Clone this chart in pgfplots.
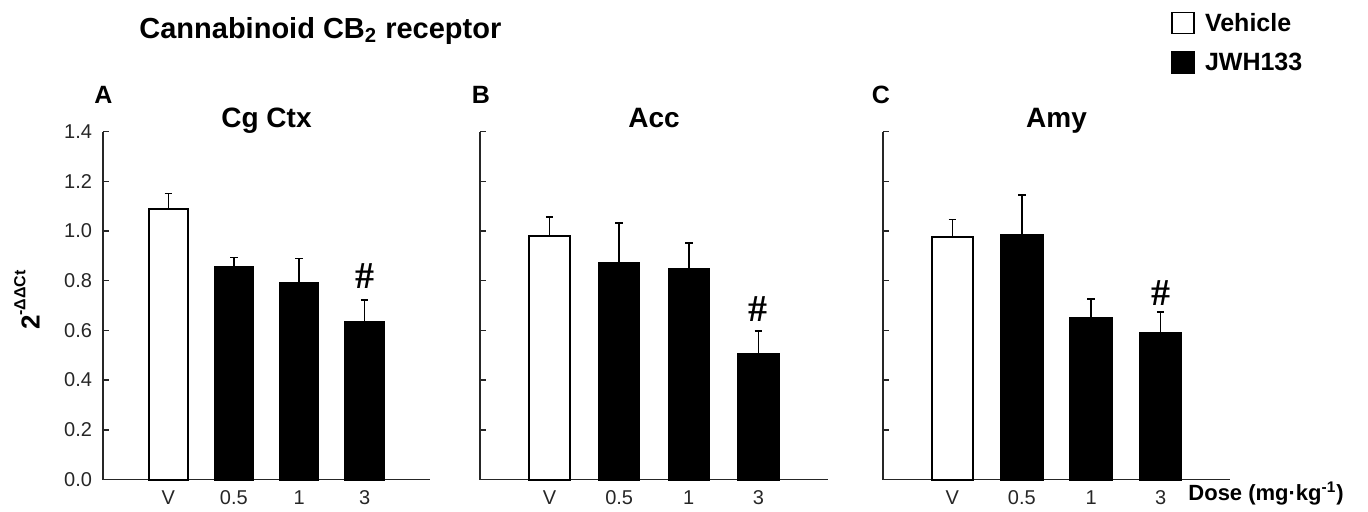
\documentclass[border=0pt]{standalone}
\usepackage{pgfplots}
\pgfplotsset{compat=1.18}
\usepackage{fontspec}
\setmainfont{Liberation Sans}
\newfontfamily\seriffont{Liberation Serif}
\begin{document}
\begin{tikzpicture}
\pgfplotsset{
  panel/.style={
    scale only axis, height=174pt,
    ymin=0, ymax=1.4, xmin=-1, xmax=4,
    axis x line*=bottom, axis y line*=left,
    axis line style={-, line width=0.8pt, black!85},
    tick align=inside, major tick length=3pt,
    tick style={line width=0.7pt, black!85},
    ytick={0,0.2,0.4,0.6,0.8,1.0,1.2,1.4},
    xtick={0,1,2,3}, xticklabels={V,0.5,1,3},
    major x tick style={draw=none},
    /pgf/number format/fixed, /pgf/number format/fixed zerofill,
    /pgf/number format/precision=1, /pgf/number format/assume math mode=true,
    ticklabel style={font=\fontsize{10}{12}\selectfont, text=black!85},
    yticklabel style={xshift=-2pt},
    xticklabel style={yshift=-2pt},
    clip=false,
  },
  vbar/.style={ybar, bar shift=0pt, bar width=#1, fill=white, draw=black, line width=1pt,
     error bars/.cd, y dir=plus, y explicit, error mark=|,
     error bar style={line width=0.75pt, black},
     error mark options={line width=0.75pt, black, mark size=1.9pt}},
  jbar/.style={ybar, bar shift=0pt, bar width=#1, fill=black, draw=black, line width=1pt,
     error bars/.cd, y dir=plus, y explicit, error mark=|,
     error bar style={line width=0.75pt, black},
     error mark options={line width=0.75pt, black, mark size=1.9pt}},
}
\path[use as bounding box] (0,0) rectangle (684pt,-255.5pt);

% Panel A
\begin{axis}[panel, width=163.5pt, at={(51.5pt,-239.75pt)}, anchor=south west]
\addplot[vbar=0.59] coordinates {(0,1.09) +- (0,0.06)};
\addplot[jbar=0.59] coordinates {(1,0.854) +- (0,0.04) (2,0.789) +- (0,0.10) (3,0.633) +- (0,0.09)};
\node[font=\seriffont\bfseries\fontsize{19}{20}\selectfont] at (axis cs:3,0.818) {\#};
\end{axis}

% Panel B
\begin{axis}[panel, width=174pt, at={(240pt,-239.75pt)}, anchor=south west, yticklabels={}]
\addplot[vbar=0.58] coordinates {(0,0.978) +- (0,0.078)};
\addplot[jbar=0.58] coordinates {(1,0.871) +- (0,0.16) (2,0.847) +- (0,0.105) (3,0.503) +- (0,0.094)};
\node[font=\seriffont\bfseries\fontsize{19}{20}\selectfont] at (axis cs:3,0.685) {\#};
\end{axis}

% Panel C
\begin{axis}[panel, width=173.5pt, at={(441.5pt,-239.75pt)}, anchor=south west, yticklabels={},
  legend style={at={(axis description cs:0.830,1.345)}, anchor=north west, draw=none, fill=none,
    inner sep=0pt, row sep=8.25pt, column sep=5pt,
    font=\bfseries\fontsize{12.5}{15}\selectfont, nodes={inner sep=0pt}},
  legend cell align=left,
  legend image code/.code={\draw[#1, line width=0.8pt] (0pt,-4.75pt) rectangle (11pt,5.75pt);}]
\addplot[vbar=0.6] coordinates {(0,0.977) +- (0,0.07)};
\addplot[jbar=0.6] coordinates {(1,0.984) +- (0,0.16) (2,0.650) +- (0,0.076) (3,0.591) +- (0,0.082)};
\node[font=\seriffont\bfseries\fontsize{19}{20}\selectfont] at (axis cs:3,0.75) {\#};
\legend{Vehicle, JWH133}
\end{axis}

% Texts
\node[anchor=base west, inner sep=0pt, font=\bfseries\fontsize{14.5}{17}\selectfont] at (69.5pt,-19pt) {Cannabinoid CB\textsubscript{2} receptor};
\node[anchor=base, inner sep=0pt, font=\bfseries\fontsize{14}{17}\selectfont] at (133.25pt,-63.75pt) {Cg Ctx};
\node[anchor=base, inner sep=0pt, font=\bfseries\fontsize{14}{17}\selectfont] at (327pt,-63.75pt) {Acc};
\node[anchor=base, inner sep=0pt, font=\bfseries\fontsize{14}{17}\selectfont] at (528.25pt,-63.75pt) {Amy};
\node[anchor=base, inner sep=0pt, font=\bfseries\fontsize{12.5}{15}\selectfont] at (51.75pt,-51.5pt) {A};
\node[anchor=base, inner sep=0pt, font=\bfseries\fontsize{12.5}{15}\selectfont] at (240.5pt,-51.5pt) {B};
\node[anchor=base, inner sep=0pt, font=\bfseries\fontsize{12.5}{15}\selectfont] at (440.5pt,-51.5pt) {C};
\node[rotate=90, inner sep=0pt, font=\bfseries\fontsize{13}{15}\selectfont] at (13.5pt,-150pt) {2\raisebox{0.55em}{\fontsize{8}{9}\selectfont -ΔΔCt}};
\node[anchor=base west, inner sep=0pt, font=\bfseries\fontsize{11}{13}\selectfont] at (594pt,-250pt) {Dose (mg·kg\textsuperscript{-1})};
\end{tikzpicture}
\end{document}
